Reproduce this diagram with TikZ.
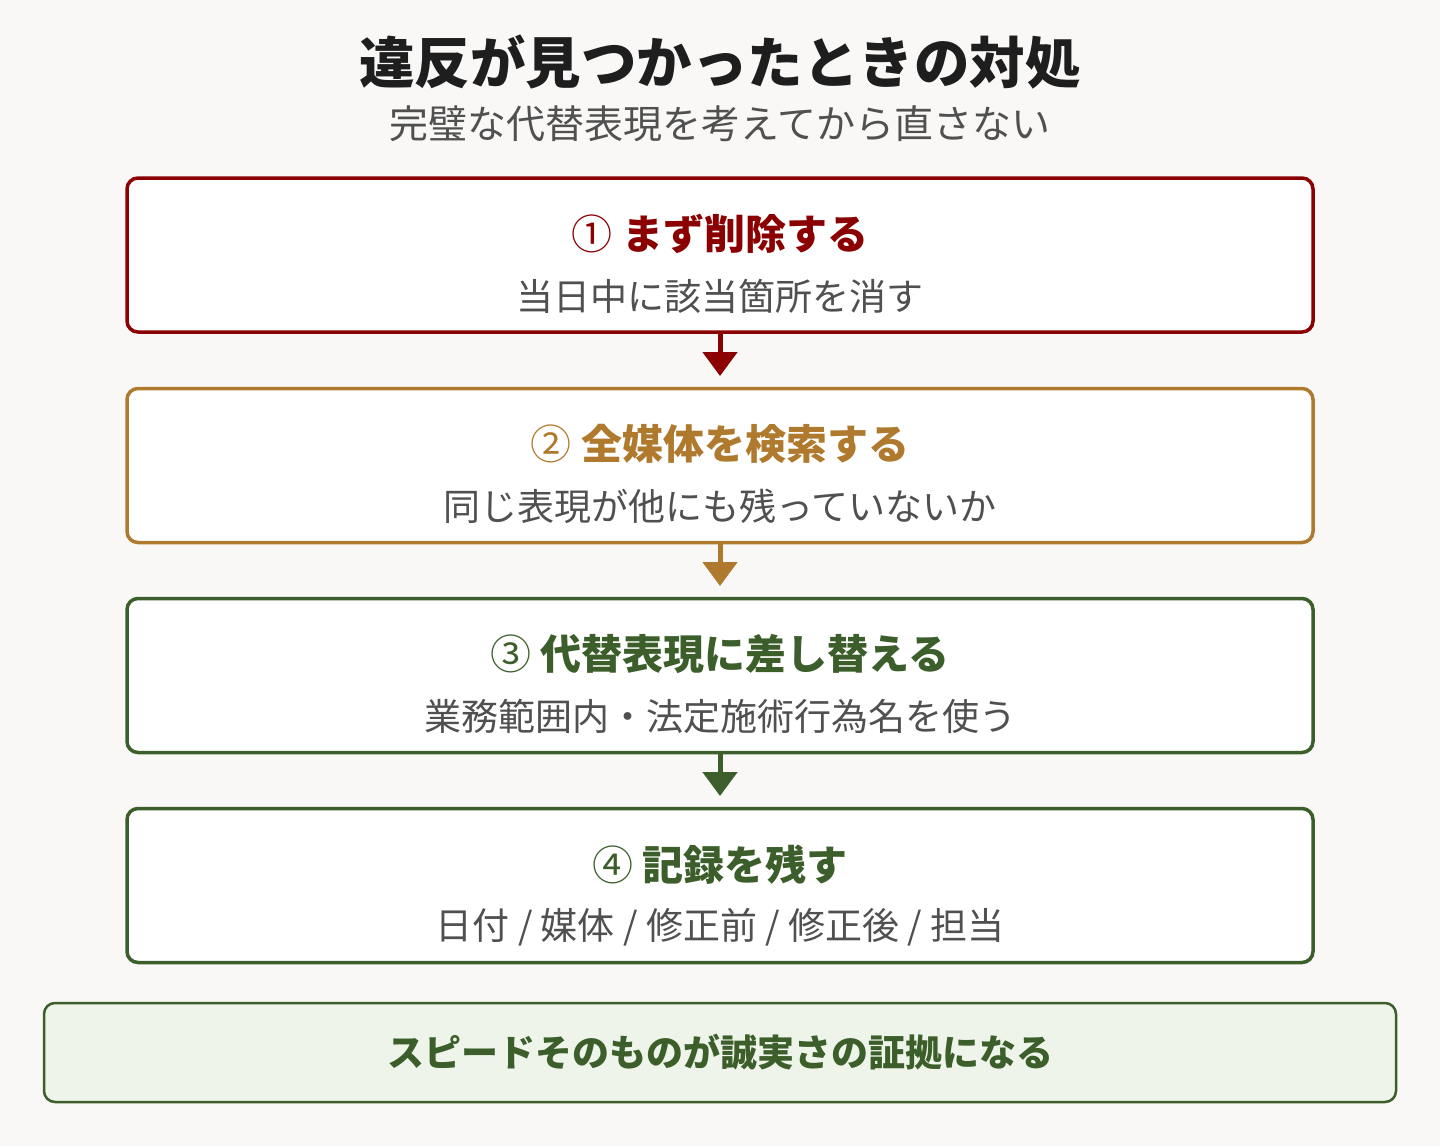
\documentclass[tikz,border=0pt]{standalone}
\usepackage{fontspec}
\setmainfont{Noto Sans CJK JP}
\usetikzlibrary{arrows.meta}
\definecolor{bg}{HTML}{F9F8F6}
\definecolor{cred}{HTML}{8B0000}
\definecolor{cgold}{HTML}{B07A2E}
\definecolor{cgreen}{HTML}{3C5E2A}
\definecolor{cgrey}{HTML}{505050}
\definecolor{ctitle}{HTML}{1E1E1E}
\definecolor{lgreen}{HTML}{EEF4EA}
\newcommand{\fs}[1]{\fontsize{#1}{#1}\selectfont}
\tikzset{
  stepbox/.style={draw=#1, line width=3.5pt, rounded corners=11pt, fill=white, minimum width=1186pt, minimum height=154pt, inner sep=0pt},
  headtxt/.style={text=#1, font=\fs{41}\bfseries, inner sep=0pt, anchor=center},
  subtxt/.style={text=cgrey, font=\fs{37}, inner sep=0pt, anchor=center},
  flow/.style={draw=#1, line width=5pt, -{Triangle[length=24pt,width=34pt]}, shorten >=0pt}
}
\begin{document}
\begin{tikzpicture}[x=1pt,y=-1pt]
\fill[bg] (0,0) rectangle (1440,1146);
\useasboundingbox (0,0) rectangle (1440,1146);
\node[text=ctitle, font=\fs{55.5}\bfseries, inner sep=0pt] (title) at (720,62) {違反が見つかったときの対処};
\node[text=cgrey, font=\fs{39}, inner sep=0pt] (subtitle) at (720,124) {完璧な代替表現を考えてから直さない};

\node[stepbox=cred] (b1) at (720,255) {};
\node[stepbox=cgold] (b2) at (720,465.5) {};
\node[stepbox=cgreen] (b3) at (720,675.5) {};
\node[stepbox=cgreen] (b4) at (720,885.5) {};

\node[headtxt=cred] (h1) at (720,234) {{\mdseries ①} まず削除する};
\node[subtxt] (s1) at (720,296) {当日中に該当箇所を消す};
\node[headtxt=cgold] (h2) at (720,444) {{\mdseries ②} 全媒体を検索する};
\node[subtxt] (s2) at (720,506) {同じ表現が他にも残っていないか};
\node[headtxt=cgreen] (h3) at (720,654) {{\mdseries ③} 代替表現に差し替える};
\node[subtxt] (s3) at (720,716) {業務範囲内・法定施術行為名を使う};
\node[headtxt=cgreen] (h4) at (720,865) {{\mdseries ④} 記録を残す};
\node[subtxt] (s4) at (720,927) {日付 / 媒体 / 修正前 / 修正後 / 担当};

\coordinate (a1) at (720,376);
\coordinate (a2) at (720,586);
\coordinate (a3) at (720,796);
\draw[flow=cred] (b1.south) -- (a1);
\draw[flow=cgold] (b2.south) -- (a2);
\draw[flow=cgreen] (b3.south) -- (a3);

\node[draw=cgreen, fill=lgreen, line width=2.5pt, rounded corners=11pt, minimum width=1352pt, minimum height=99pt, inner sep=0pt] (note) at (720,1052.5) {};
\node[text=cgreen, font=\fs{37}\bfseries, inner sep=0pt] (notetxt) at (720,1052) {スピードそのものが誠実さの証拠になる};
\end{tikzpicture}
\end{document}
